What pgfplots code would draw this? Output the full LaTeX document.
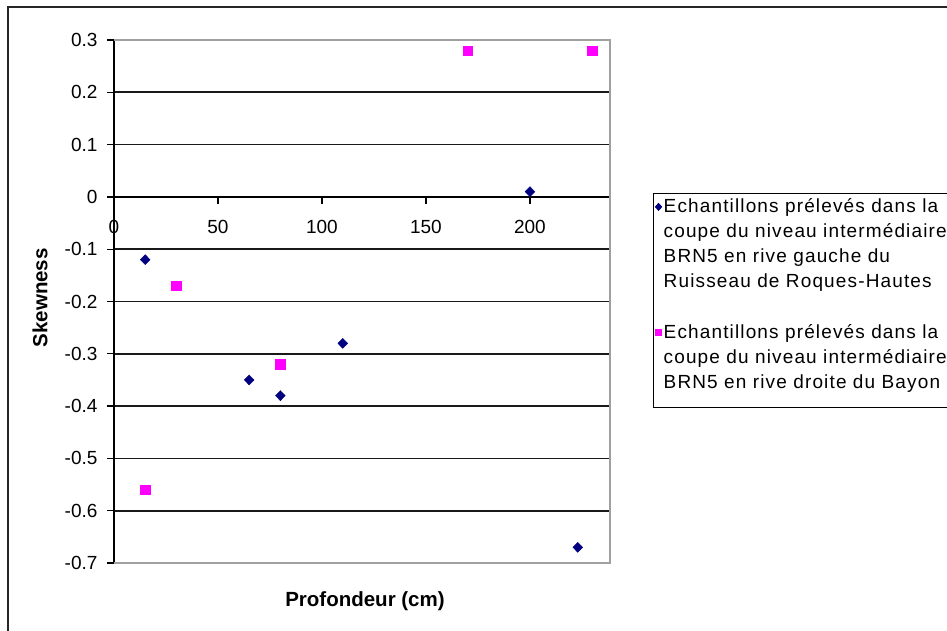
\documentclass[border=0pt]{standalone}
\usepackage{pgfplots}
\pgfplotsset{compat=1.18}
\usepackage{pgfplotstable}
\usepackage{fontspec}
\setmainfont{Liberation Sans}
\newfontfamily\legfont[LetterSpace=6]{Liberation Sans}
\definecolor{navyc}{HTML}{000080}
\definecolor{magentac}{HTML}{FF00FF}
\definecolor{bordergray}{HTML}{A0A0A0}
\pgfplotstableread{
x y
15 -0.12
65 -0.35
80 -0.38
110 -0.28
200 0.01
223 -0.67
}\gauche
\pgfplotstableread{
x y
15 -0.56
30 -0.17
80 -0.32
170 0.28
230 0.28
}\droite
\begin{document}
\begin{tikzpicture}[x=1pt,y=1pt]
\useasboundingbox (0,0) rectangle (947,630);
\draw[line width=1.3pt, black!85] (8,-10) -- (8,623) -- (960,623);
\begin{axis}[
  at={(114pt,67pt)}, anchor=south west,
  scale only axis, width=496pt, height=523pt,
  xmin=0, xmax=238.5, ymin=-0.7, ymax=0.3,
  axis x line=middle, axis y line=left,
  axis line style={-, black, line width=1.3pt},
  hide obscured x ticks=false,
  xtick={0,50,100,150,200},
  ytick={-0.7,-0.6,-0.5,-0.4,-0.3,-0.2,-0.1,0,0.1,0.2,0.3},
  tick align=outside,
  major tick length=7pt,
  tick style={black, line width=1.3pt},
  ymajorgrids,
  grid style={black!90, line width=1.7pt},
  /pgf/number format/assume math mode=true,
  tick label style={font=\fontsize{19}{23}\selectfont},
  yticklabel style={xshift=-6pt},
  xticklabel style={yshift=-13pt},
  xlabel={\bfseries Profondeur (cm)},
  ylabel={\bfseries Skewness},
  label style={font=\fontsize{20.5}{24}\selectfont},
  xlabel style={at={(axis description cs:0.506,-0.073)}, anchor=center},
  ylabel style={at={(axis description cs:-0.149,0.507)}, anchor=center, rotate=0},
  legend style={at={(1.0867,0.7075)}, anchor=north west, draw=black, line width=0.8pt,
    inner xsep=2pt, inner ysep=0pt, row sep=22pt,
    font=\legfont\fontsize{19}{25}\selectfont,
    nodes={text depth=, inner sep=2pt},
    cells={anchor=base west}},
  clip=false,
]
\draw[bordergray, line width=1.2pt] (rel axis cs:0,0) -- (rel axis cs:1,0) -- (rel axis cs:1,1) -- (rel axis cs:0,1);
\addplot[only marks, mark=diamond*, mark size=5pt, mark options={xscale=1.3, fill=navyc, draw=navyc},
  legend image code/.code={\draw[mark=diamond*, mark size=3.5pt, mark options={xscale=1.2, fill=navyc, draw=navyc}] plot coordinates {(2pt,6pt)};}]
  table[x=x,y=y] {\gauche};
\addlegendentry{\begin{tabular}[t]{@{}p{300pt}@{}}Echantillons prélevés dans la\\coupe du niveau intermédiaire\\BRN5 en rive gauche du\\Ruisseau de Roques-Hautes\end{tabular}}
\addplot[only marks, mark=square*, mark size=4.7pt, mark options={fill=magentac, draw=magentac},
  legend image code/.code={\draw[mark=square*, mark size=3pt, mark options={fill=magentac, draw=magentac}] plot coordinates {(2pt,6pt)};}]
  table[x=x,y=y] {\droite};
\addlegendentry{\begin{tabular}[t]{@{}p{300pt}@{}}Echantillons prélevés dans la\\coupe du niveau intermédiaire\\BRN5 en rive droite du Bayon\rule[-17pt]{0pt}{0pt}\end{tabular}}
\end{axis}
\end{tikzpicture}
\end{document}
